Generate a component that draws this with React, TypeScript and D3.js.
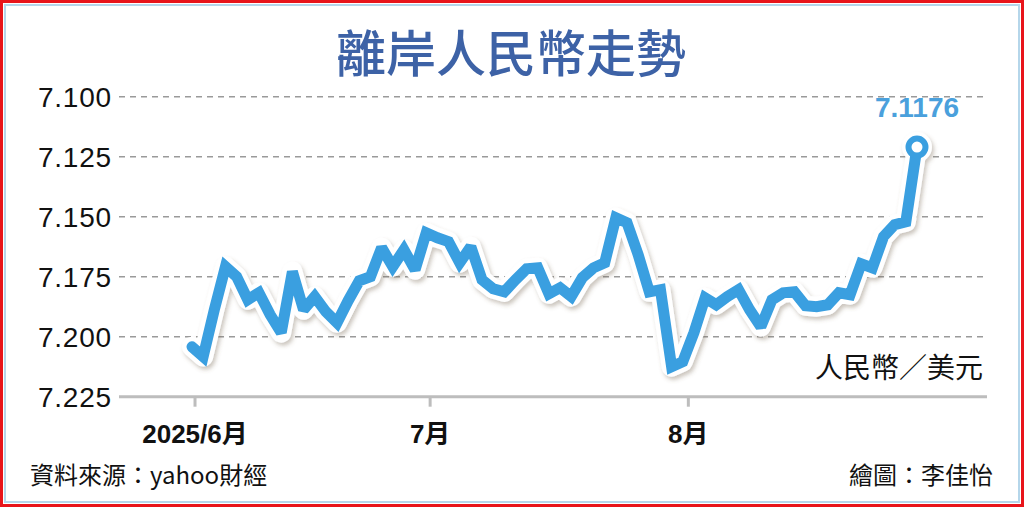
import React from "react";
import * as d3 from "d3";

const W = 1024;
const H = 507;

const TITLE = "離岸人民幣走勢";
const UNIT = "人民幣／美元";
const SOURCE = "資料來源：yahoo財經";
const CREDIT = "繪圖：李佳怡";
const LAST_LABEL = "7.1176";

// trading-day series (index order), CNH per USD
const values: number[] = [
  7.2042, 7.2083, 7.1888, 7.1708, 7.175, 7.1846, 7.1817, 7.1908, 7.1983, 7.1729,
  7.1888, 7.1833, 7.1896, 7.1942, 7.185, 7.1767, 7.175, 7.1629, 7.1708, 7.1638,
  7.1721, 7.1567, 7.1588, 7.1604, 7.1692, 7.1625, 7.1763, 7.18, 7.1813, 7.1763,
  7.1717, 7.1713, 7.1821, 7.1796, 7.1833, 7.1754, 7.1713, 7.1692, 7.1504, 7.1525,
  7.1658, 7.1813, 7.1804, 7.2125, 7.2104, 7.1983, 7.1838, 7.1867, 7.1833, 7.1804,
  7.1888, 7.1958, 7.1846, 7.1817, 7.1813, 7.1871, 7.1875, 7.1867, 7.1817, 7.1825,
  7.1696, 7.1713, 7.1583, 7.1533, 7.1521, 7.121,
];

const yTicks: number[] = [7.1, 7.125, 7.15, 7.175, 7.2, 7.225];
const monthLabels: string[] = ["2025/6月", "7月", "8月"];
const monthTickIndex: number[] = [0.27, 21.35, 44.5];

const x = d3.scaleLinear().domain([0, values.length - 1]).range([192, 917]);
const y = d3.scaleLinear().domain([7.1, 7.225]).range([96.7, 396.7]);

const linePath = d3
  .line<number>()
  .x((_, i) => x(i))
  .y((d) => y(d))(values) as string;

const BLUE = "#3a9fe0";

export default function App() {
  const lastI = values.length - 1;
  const lx = x(lastI);
  const ly = y(values[lastI]);
  return (
    <svg
      width={W}
      height={H}
      viewBox={`0 0 ${W} ${H}`}
      style={{ position: "absolute", left: 0, top: 0, background: "#fff" }}
      fontFamily="'Liberation Sans', Arial, 'Noto Sans CJK TC', sans-serif"
    >
      <defs>
        <filter id="sh" x="-10%" y="-10%" width="120%" height="130%">
          <feDropShadow dx="2" dy="3" stdDeviation="2" floodColor="#6b5a40" floodOpacity="0.35" />
        </filter>
      </defs>
      <rect x={0} y={0} width={W} height={H} fill="#fff" />
      {/* borders */}
      <rect x={1.5} y={1.5} width={W - 3} height={H - 3} fill="none" stroke="#e8141a" strokeWidth={3} />
      <rect x={5} y={5} width={W - 10} height={H - 10} fill="none" stroke="#b5d6ea" strokeWidth={2} />

      {/* title */}
      <text
        x={511}
        y={72}
        textAnchor="middle"
        fontSize={50}
        fontWeight={500}
        fill="#3d62a6"
        fontFamily="'Noto Sans CJK TC', sans-serif"
      >
        {TITLE}
      </text>

      {/* grid */}
      {yTicks.slice(0, -1).map((t) => (
        <line
          key={t}
          x1={119}
          x2={986}
          y1={y(t)}
          y2={y(t)}
          stroke="#9a9a9a"
          strokeWidth={1.5}
          strokeDasharray="6 5"
        />
      ))}
      {/* y labels */}
      {yTicks.map((t) => (
        <text
          key={"l" + t}
          x={112}
          y={y(t) + 10}
          textAnchor="end"
          fontSize={28}
          fill="#111"
          letterSpacing={0.8}
        >
          {d3.format(".3f")(t)}
        </text>
      ))}
      {/* x axis */}
      <line x1={119} x2={987} y1={y(7.225)} y2={y(7.225)} stroke="#bdbdbd" strokeWidth={3} />
      {monthTickIndex.map((m, i) => (
        <g key={"m" + i}>
          <line x1={x(m)} x2={x(m)} y1={y(7.225)} y2={y(7.225) + 10} stroke="#bdbdbd" strokeWidth={3} />
          <text
            x={x(m)}
            y={443}
            textAnchor="middle"
            fontSize={26}
            fontWeight={700}
            fill="#111"
            fontFamily="'Liberation Sans', 'Noto Sans CJK TC', sans-serif"
          >
            {monthLabels[i]}
          </text>
        </g>
      ))}

      {/* line with halo */}
      <g filter="url(#sh)">
        <path d={linePath} fill="none" stroke="#fff" strokeWidth={20} strokeLinejoin="round" strokeLinecap="round" />
        <circle cx={lx} cy={ly} r={15} fill="#fff" />
      </g>
      <path
        d={linePath}
        fill="none"
        stroke={BLUE}
        strokeWidth={11}
        strokeLinejoin="miter"
        strokeMiterlimit={2}
        strokeLinecap="round"
      />
      <circle cx={lx} cy={ly} r={8.5} fill="#fff" stroke={BLUE} strokeWidth={6} />
      <text
        x={lx}
        y={117}
        textAnchor="middle"
        fontSize={28}
        fontWeight={700}
        fill="#4aa0dc"
      >
        {LAST_LABEL}
      </text>

      {/* unit */}
      <text
        x={983}
        y={378}
        textAnchor="end"
        fontSize={28}
        fill="#111"
        fontFamily="'Noto Sans CJK TC', sans-serif"
      >
        {UNIT}
      </text>

      {/* footer */}
      <text x={30} y={484} fontSize={24} fill="#111" fontFamily="'Noto Sans CJK TC', sans-serif">
        {SOURCE}
      </text>
      <text x={993} y={484} textAnchor="end" fontSize={24} fill="#111" fontFamily="'Noto Sans CJK TC', sans-serif">
        {CREDIT}
      </text>
    </svg>
  );
}
